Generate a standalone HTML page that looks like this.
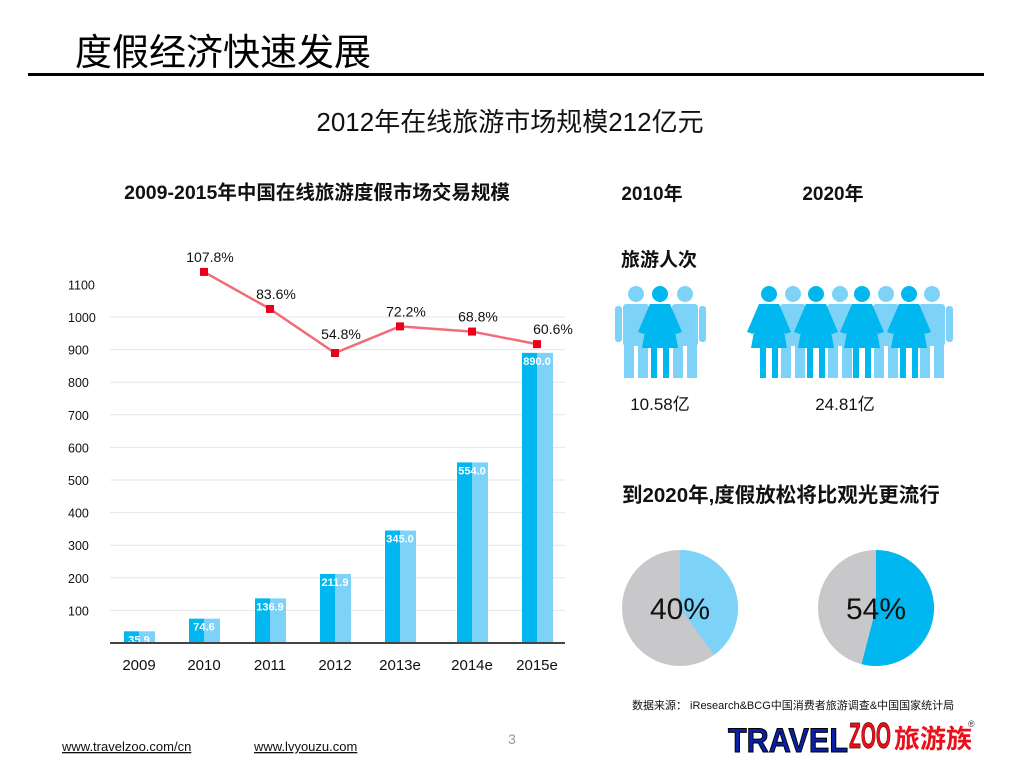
<!DOCTYPE html>
<html><head><meta charset="utf-8">
<style>
body{margin:0;width:1024px;height:768px;background:#fff;overflow:hidden;font-family:"Liberation Sans","Noto Sans CJK SC",sans-serif}
svg{display:block}
text{font-family:"Liberation Sans","Noto Sans CJK SC",sans-serif}
</style></head><body>
<svg id="s" width="1024" height="768" viewBox="0 0 1024 768">
<text x="75" y="65" font-size="37" fill="#000">度假经济快速发展</text>
<rect x="28" y="73" width="956" height="3" fill="#000"/>
<text x="510" y="131" font-size="26" text-anchor="middle" fill="#111">2012年在线旅游市场规模212亿元</text>
<text x="317" y="199" font-size="19.5" text-anchor="middle" font-weight="bold" fill="#111">2009-2015年中国在线旅游度假市场交易规模</text>
<g id="chart"></g>
<text x="652" y="200" font-size="19" text-anchor="middle" font-weight="bold" fill="#111">2010年</text>
<text x="833" y="200" font-size="19" text-anchor="middle" font-weight="bold" fill="#111">2020年</text>
<text x="621" y="266" font-size="19" font-weight="bold" fill="#111">旅游人次</text>
<g id="people"></g>
<text x="660" y="410" font-size="17" text-anchor="middle" fill="#111">10.58亿</text>
<text x="845" y="410" font-size="17" text-anchor="middle" fill="#111">24.81亿</text>
<text x="622" y="502" font-size="20.5" font-weight="bold" fill="#111">到2020年,度假放松将比观光更流行</text>
<g id="pies"></g>
<text x="632" y="709" font-size="11" fill="#111">数据来源： iResearch&amp;BCG中国消费者旅游调查&amp;中国国家统计局</text>
<text x="512" y="744" font-size="14" text-anchor="middle" fill="#999">3</text>
<text x="62" y="751" font-size="13" fill="#111" text-decoration="underline">www.travelzoo.com/cn</text>
<text x="254" y="751" font-size="13" fill="#111" text-decoration="underline">www.lvyouzu.com</text>
<g>
<text x="728" y="752" font-size="34" font-weight="bold" fill="#0a1fa8" stroke="#000" stroke-width="1" textLength="120" lengthAdjust="spacingAndGlyphs">TRAVEL</text>
<text x="849" y="748" font-size="36" font-weight="bold" fill="#e8101a" stroke="#600" stroke-width="0.8" textLength="42" lengthAdjust="spacingAndGlyphs">ZOO</text>
<text x="894" y="748" font-size="26" font-weight="bold" fill="#e8101a">旅游族</text>
<text x="968" y="727" font-size="9" fill="#333">®</text>
</g>
</svg>
<script>
const years=["2009","2010","2011","2012","2013e","2014e","2015e"];
const sizes=[35.9,74.6,136.9,211.9,345.0,554.0,890.0];
const growthYears=["2010","2011","2012","2013e","2014e","2015e"];
const growth=[107.8,83.6,54.8,72.2,68.8,60.6];
const yTicks=[100,200,300,400,500,600,700,800,900,1000,1100];
const NS="http://www.w3.org/2000/svg";
function mk(p,t,a){const e=document.createElementNS(NS,t);for(const k in a)e.setAttribute(k,a[k]);p.appendChild(e);return e;}
const g=document.getElementById('chart');
const base=643,pxPer=0.326;
const yS=v=>base-v*pxPer;
const xC=[139,204,270,335,400,472,537];
const xS=i=>xC[i];
const gS=v=>353-(v-54.8)*1.53;
yTicks.forEach(t=>{
 if(t<=1000){const l=mk(g,'line',{x1:110,x2:565,y1:yS(t),y2:yS(t),stroke:'#e6e6e6','stroke-width':1});
 
 }
 const tx=mk(g,'text',{x:68,y:yS(t)+5,'font-size':12.5,fill:'#111'});tx.textContent=t;
 
 
});
sizes.forEach((v,i)=>{
 const x=xS(i),top=yS(v);
 const b1=mk(g,'rect',{x:x-15,y:top,width:15,height:base-top,fill:'#00b7ef'});
 
 
 const b2=mk(g,'rect',{x:x,y:top,width:16,height:base-top,fill:'#7dd3f7'});
 
 
 const vl=mk(g,'text',{x:x,y:top+12,'font-size':11,'font-weight':'bold',fill:'#fff','text-anchor':'middle'});vl.textContent=v.toFixed(1);
 
 
 const xl=mk(g,'text',{x:x,y:670,'font-size':15,fill:'#111','text-anchor':'middle'});xl.textContent=years[i];
 
 
});
const ax=mk(g,'line',{x1:110,x2:565,y1:base,y2:base,stroke:'#444','stroke-width':2});


const pts=growth.map((v,i)=>[xS(i+1),gS(v)]);
const pl=mk(g,'polyline',{points:pts.map(p=>p.join(',')).join(' '),fill:'none',stroke:'#f26b78','stroke-width':2.5});


pts.forEach((p,i)=>{
 const r=mk(g,'rect',{x:p[0]-4,y:p[1]-4,width:8,height:8,fill:'#e8001c'});
 
 
 const t=mk(g,'text',{x:p[0]+6,y:p[1]-10,'font-size':14,fill:'#111','text-anchor':'middle'});t.textContent=growth[i]+'%';
 if(i==2){t.setAttribute('y',p[1]-14);}
 if(i==5){t.setAttribute('x',p[0]+16);}
 
 
});
const pg=document.getElementById('people');
function person(x,woman,col){
 const G=mk(pg,'g',{fill:col});
 
 
 mk(G,'circle',{cx:x,cy:294,r:8});
 if(woman){
  mk(G,'polygon',{points:`${x-10},304 ${x+10},304 ${x+18},348 ${x-18},348`});
  mk(G,'polygon',{points:`${x-10},304 ${x-4},306 ${x-16},334 ${x-22},332`});
  mk(G,'polygon',{points:`${x+10},304 ${x+4},306 ${x+16},334 ${x+22},332`});
  mk(G,'rect',{x:x-9,y:346,width:6,height:32});mk(G,'rect',{x:x+3,y:346,width:6,height:32});
 }else{
  mk(G,'rect',{x:x-13,y:304,width:26,height:42,rx:3});
  mk(G,'rect',{x:x-21,y:306,width:7,height:36,rx:3});mk(G,'rect',{x:x+14,y:306,width:7,height:36,rx:3});
  mk(G,'rect',{x:x-12,y:340,width:10,height:38});mk(G,'rect',{x:x+2,y:340,width:10,height:38});
 }
}
const L='#7dd3f7',D='#00b7ef';
person(636,false,L);person(685,false,L);person(660,true,D);
[[793,false],[840,false],[886,false],[932,false]].forEach(a=>person(a[0],a[1],L));
[[769,true],[816,true],[862,true],[909,true]].forEach(a=>person(a[0],a[1],D));
const pieShares=[40,54];
const pieColors=['#7dd3f7','#00b7ef'];
const pc=document.getElementById('pies');
[[680,608],[876,608]].forEach((c,i)=>{
 const r=58,a=pieShares[i]/100*2*Math.PI;
 const bg=mk(pc,'circle',{cx:c[0],cy:c[1],r:r,fill:'#c8c8ca'});
 
 
 const ex=c[0]+r*Math.sin(a),ey=c[1]-r*Math.cos(a);
 const sl=mk(pc,'path',{d:`M${c[0]},${c[1]} L${c[0]},${c[1]-r} A${r},${r} 0 ${a>Math.PI?1:0} 1 ${ex},${ey} Z`,fill:pieColors[i]});
 
 
 const t=mk(pc,'text',{x:c[0],y:c[1]+11,'font-size':30,'text-anchor':'middle',fill:'#111'});t.textContent=pieShares[i]+'%';
 
 
});
</script>
</body></html>
